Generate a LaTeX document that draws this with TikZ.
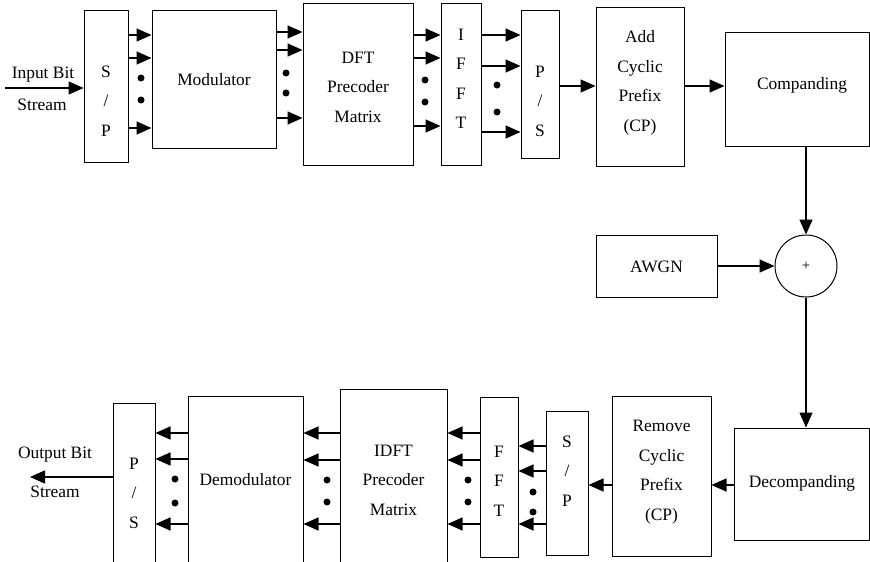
\documentclass[tikz,border=0pt]{standalone}
\usepackage{fontspec}
\setmainfont{Liberation Serif}
\usetikzlibrary{arrows.meta,calc}
\tikzset{
  blk/.style={draw,line width=1pt,inner sep=0pt},
  txt/.style={inner sep=0pt,align=center,font=\fontsize{17.4}{29.5}\selectfont},
  arr/.style={line width=1.5pt,-{Triangle[length=15pt,width=13pt]}},
  dot/.style={fill=black}
}

\begin{document}
\begin{tikzpicture}[x=1pt,y=-1pt]
\useasboundingbox (0,0) rectangle (870,562);
% transmitter chain (top row)
\node[blk,minimum width=44,minimum height=152] (sp1) at (106,86) {};
\node[txt] (sp1t) at (106,101) {S\\/\\P};
\node[blk,minimum width=124,minimum height=138] (mod) at (214,79) {};
\node[txt] (modt) at (214,80) {Modulator};
\node[blk,minimum width=110,minimum height=162] (dft) at (358,84) {};
\node[txt] (dftt) at (358,87) {DFT\\Precoder\\Matrix};
\node[blk,minimum width=40,minimum height=162] (ifft) at (461,84) {};
\node[txt] (ifftt) at (461,79) {I\\F\\F\\T};
\node[blk,minimum width=38,minimum height=148] (ps1) at (540,84) {};
\node[txt] (ps1t) at (540,101) {P\\/\\S};
\node[blk,minimum width=88,minimum height=159] (acp) at (640,86.5) {};
\node[txt] (acpt) at (640,83) {Add\\Cyclic\\Prefix\\(CP)};
\node[blk,minimum width=144,minimum height=114] (comp) at (797,89) {};
\node[txt] (compt) at (802,85) {Companding};
% channel
\node[draw,line width=1pt,circle,minimum size=62,inner sep=0pt,font=\fontsize{15}{17}\selectfont] (sum) at (806,266) {+};
\node[blk,minimum width=121,minimum height=62] (awgn) at (656.5,266) {};
\node[txt] (awgnt) at (656.5,267) {AWGN};
% receiver chain (bottom row)
\node[blk,minimum width=135,minimum height=112] (dcomp) at (801.5,484) {};
\node[txt] (dcompt) at (802,483) {Decompanding};
\node[blk,minimum width=99,minimum height=160] (rcp) at (661.5,476) {};
\node[txt] (rcpt) at (661.5,472) {Remove\\Cyclic\\Prefix\\(CP)};
\node[blk,minimum width=42,minimum height=144] (sp2) at (567,483) {};
\node[txt] (sp2t) at (567,471) {S\\/\\P};
\node[blk,minimum width=38,minimum height=160] (fft) at (499,477) {};
\node[txt] (fftt) at (499,481) {F\\F\\T};
\node[blk,minimum width=107,minimum height=181] (idft) at (393.5,479.5) {};
\node[txt] (idftt) at (393.5,480) {IDFT\\Precoder\\Matrix};
\node[blk,minimum width=115,minimum height=174] (demod) at (245.5,483) {};
\node[txt] (demodt) at (245.5,480) {Demodulator};
\node[blk,minimum width=42,minimum height=167] (ps2) at (134,486.5) {};
\node[txt] (ps2t) at (134,493) {P\\/\\S};
% input and output labels
\node[txt] (inlbl) at (43,75) {Input Bit};
\node[txt] (inlbl2) at (42,105) {Stream};
\node[txt] (outlbl) at (55,455) {Output Bit};
\node[txt] (outlbl2) at (55,492) {Stream};
\coordinate (inpt) at (5,88);
\coordinate (outpt) at (30,477);
% connectors, top row
\draw[arr] (inpt) -- (inpt -| sp1.west);
\foreach \y in {35,58,128} \draw[arr] (sp1.east |- 0,\y) -- (mod.west |- 0,\y);
\foreach \y in {32,50,118} \draw[arr] (mod.east |- 0,\y) -- (dft.west |- 0,\y);
\foreach \y in {35,58,126} \draw[arr] (dft.east |- 0,\y) -- (ifft.west |- 0,\y);
\foreach \y in {35,66,132} \draw[arr] (ifft.east |- 0,\y) -- (ps1.west |- 0,\y);
\draw[arr] (ps1.east |- 0,86) -- (acp.west |- 0,86);
\draw[arr] (acp.east |- 0,86) -- (comp.west |- 0,86);
% connectors through the channel
\draw[arr] (sum.north |- comp.south) -- (sum.north);
\draw[arr] (awgn.east) -- (sum.west);
\draw[arr] (sum.south) -- (sum.south |- dcomp.north);
% connectors, bottom row
\draw[arr] (dcomp.west |- 0,485) -- (rcp.east |- 0,485);
\draw[arr] (rcp.west |- 0,485) -- (sp2.east |- 0,485);
\foreach \y in {446,471,524} \draw[arr] (sp2.west |- 0,\y) -- (fft.east |- 0,\y);
\foreach \y in {433,460,524} \draw[arr] (fft.west |- 0,\y) -- (idft.east |- 0,\y);
\foreach \y in {433,460,524} \draw[arr] (idft.west |- 0,\y) -- (demod.east |- 0,\y);
\foreach \y in {433,459,524} \draw[arr] (demod.west |- 0,\y) -- (ps2.east |- 0,\y);
\draw[arr] (ps2.west |- outpt) -- (outpt);
% ellipsis dots between parallel lines
\foreach \x/\ya/\yb in {141/78/100,286/73/93,425/80/102,497/85/112,
                        533/492/512,468/480/502,327/480/502,175/479/503}
  {\fill[dot] (\x,\ya) circle (3.5); \fill[dot] (\x,\yb) circle (3.5);}
\end{tikzpicture}
\end{document}
